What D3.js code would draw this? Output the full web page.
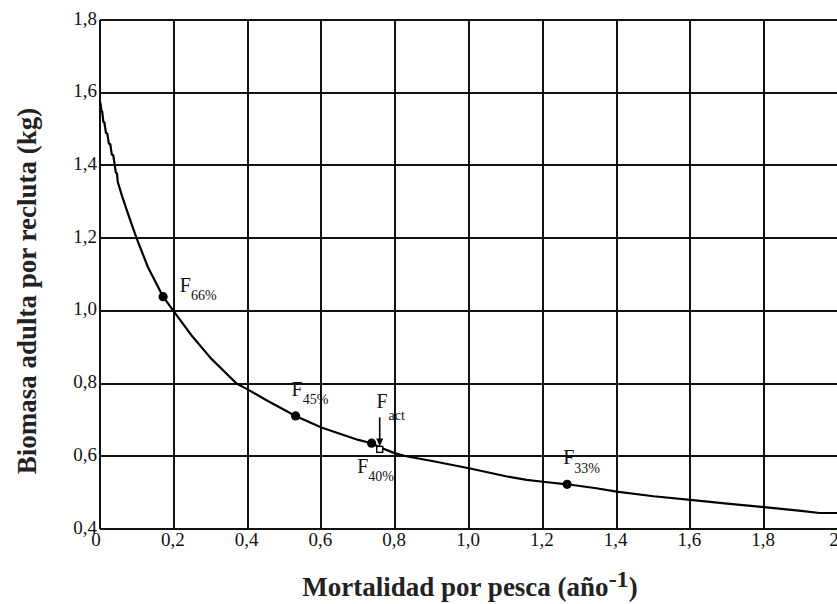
<!DOCTYPE html>
<html>
<head>
<meta charset="utf-8">
<script src="https://cdn.jsdelivr.net/npm/d3@7"></script>
<style>
  body { margin: 0; background: #fff; }
  svg { display: block; }
</style>
</head>
<body>
<svg id="chart" width="837" height="604"></svg>
<script>
// ---- data ----
const curveF = [0, 0.002, 0.004, 0.006, 0.009, 0.012, 0.016, 0.02, 0.024, 0.028, 0.032, 0.036, 0.04, 0.043, 0.046, 0.048,
  0.06, 0.08, 0.099, 0.13, 0.171, 0.199, 0.25, 0.3, 0.37, 0.4, 0.45, 0.53, 0.6, 0.7, 0.736, 0.758, 0.8, 0.83, 0.9,
  1.0, 1.1, 1.156, 1.2, 1.266, 1.345, 1.4, 1.5, 1.6, 1.7, 1.8, 1.9, 1.95, 2.0];
const curveB = [1.575, 1.566, 1.55, 1.548, 1.52, 1.518, 1.49, 1.487, 1.46, 1.458, 1.43, 1.428, 1.40, 1.38, 1.378, 1.355,
  1.315, 1.255, 1.2, 1.12, 1.039, 1.0, 0.93, 0.87, 0.8, 0.784, 0.755, 0.711, 0.679, 0.645, 0.636, 0.625, 0.608, 0.6, 0.587,
  0.567, 0.545, 0.535, 0.53, 0.523, 0.512, 0.503, 0.49, 0.48, 0.47, 0.46, 0.45, 0.444, 0.444];

const refNames = ["66%", "45%", "40%", "33%"];
const refF = [0.171, 0.530, 0.736, 1.266];
const refB = [1.039, 0.711, 0.636, 0.523];

const actName = "act";
const actF = 0.758;
const actB = 0.619;

const xTicks = [0, 0.2, 0.4, 0.6, 0.8, 1.0, 1.2, 1.4, 1.6, 1.8, 2.0];
const xTickLabels = ["0", "0,2", "0,4", "0,6", "0,8", "1,0", "1,2", "1,4", "1,6", "1,8", "2"];
const yTicks = [0.4, 0.6, 0.8, 1.0, 1.2, 1.4, 1.6, 1.8];
const yTickLabels = ["0,4", "0,6", "0,8", "1,0", "1,2", "1,4", "1,6", "1,8"];

const xTitle = "Mortalidad por pesca (año";
const xTitleSup = "-1";
const yTitle = "Biomasa adulta por recluta (kg)";

// ---- drawing ----
const FONT = "Liberation Serif";
const svg = d3.select("#chart");
const x = d3.scaleLinear().domain([0, 2]).range([100, 838]);
const y = d3.scaleLinear().domain([0.4, 1.8]).range([529, 20]);
const ink = "#111";

const grid = svg.append("g").attr("stroke", ink).attr("stroke-width", 2).attr("shape-rendering", "crispEdges");
grid.selectAll("line.v").data(xTicks).join("line").attr("class", "v")
  .attr("x1", d => x(d)).attr("x2", d => x(d)).attr("y1", y(1.8)).attr("y2", y(0.4));
grid.selectAll("line.h").data(yTicks).join("line").attr("class", "h")
  .attr("x1", x(0)).attr("x2", x(2)).attr("y1", d => y(d)).attr("y2", d => y(d));

// tick labels
svg.append("g").selectAll("text").data(yTicks).join("text")
  .attr("x", x(0) - 3).attr("y", d => y(d) + 4.5)
  .attr("text-anchor", "end").attr("font-size", 19).attr("font-family", FONT).attr("fill", ink)
  .text((d, i) => yTickLabels[i]);
svg.append("g").selectAll("text").data(xTicks).join("text")
  .attr("x", (d, i) => x(d) + (xTickLabels[i].length === 1 ? -4 : -1)).attr("y", 546)
  .attr("text-anchor", "middle").attr("font-size", 19).attr("font-family", FONT).attr("fill", ink)
  .text((d, i) => xTickLabels[i]);

// curve
const pts = curveF.map((f, i) => [f, curveB[i]]);
svg.append("path").datum(pts)
  .attr("fill", "none").attr("stroke", "#000").attr("stroke-width", 2.2)
  .attr("stroke-linejoin", "round")
  .attr("d", d3.line().x(d => x(d[0])).y(d => y(d[1])));

// reference points
svg.append("g").selectAll("circle").data(refF).join("circle")
  .attr("cx", d => x(d)).attr("cy", (d, i) => y(refB[i])).attr("r", 4.6).attr("fill", "#000");

const labelOffsets = [[16.7, -4.7], [-4, -20], [-14.4, 29.7], [-4, -20]];
const lab = svg.append("g").selectAll("text").data(refF).join("text")
  .attr("x", (d, i) => x(d) + labelOffsets[i][0])
  .attr("y", (d, i) => y(refB[i]) + labelOffsets[i][1])
  .attr("font-size", 20).attr("font-family", FONT).attr("fill", ink);
lab.append("tspan").text("F");
lab.append("tspan").attr("font-size", 14).attr("dy", 8.5).text((d, i) => refNames[i]);

// F actual: open square, arrow, label
const ax = x(actF), ay = y(actB);
svg.append("rect").attr("x", ax - 3).attr("y", ay - 3).attr("width", 6).attr("height", 6)
  .attr("fill", "#fff").attr("stroke", "#000").attr("stroke-width", 1.4);
svg.append("line").attr("x1", ax).attr("x2", ax).attr("y1", ay - 32).attr("y2", ay - 8)
  .attr("stroke", "#000").attr("stroke-width", 1.6);
svg.append("path")
  .attr("d", `M${ax - 3.5},${ay - 11} L${ax + 3.5},${ay - 11} L${ax},${ay - 3} Z`)
  .attr("fill", "#000");
const actLab = svg.append("text").attr("x", ax - 3.3).attr("y", ay - 41)
  .attr("font-size", 20).attr("font-family", FONT).attr("fill", ink);
actLab.append("tspan").text("F");
actLab.append("tspan").attr("font-size", 14).attr("dy", 12).attr("dx", 1).text(actName);

// axis titles
const xt = svg.append("text").attr("x", 470).attr("y", 596)
  .attr("text-anchor", "middle").attr("font-size", 27).attr("font-weight", "bold")
  .attr("font-family", FONT).attr("fill", "#222");
xt.append("tspan").text(xTitle);
xt.append("tspan").attr("dy", -9).attr("font-size", 24).text(xTitleSup);
xt.append("tspan").attr("dy", 9).text(")");

svg.append("text").attr("transform", "translate(36,291) rotate(-90)")
  .attr("text-anchor", "middle").attr("font-size", 27).attr("font-weight", "bold")
  .attr("font-family", FONT).attr("fill", "#222")
  .text(yTitle);
</script>
</body>
</html>
